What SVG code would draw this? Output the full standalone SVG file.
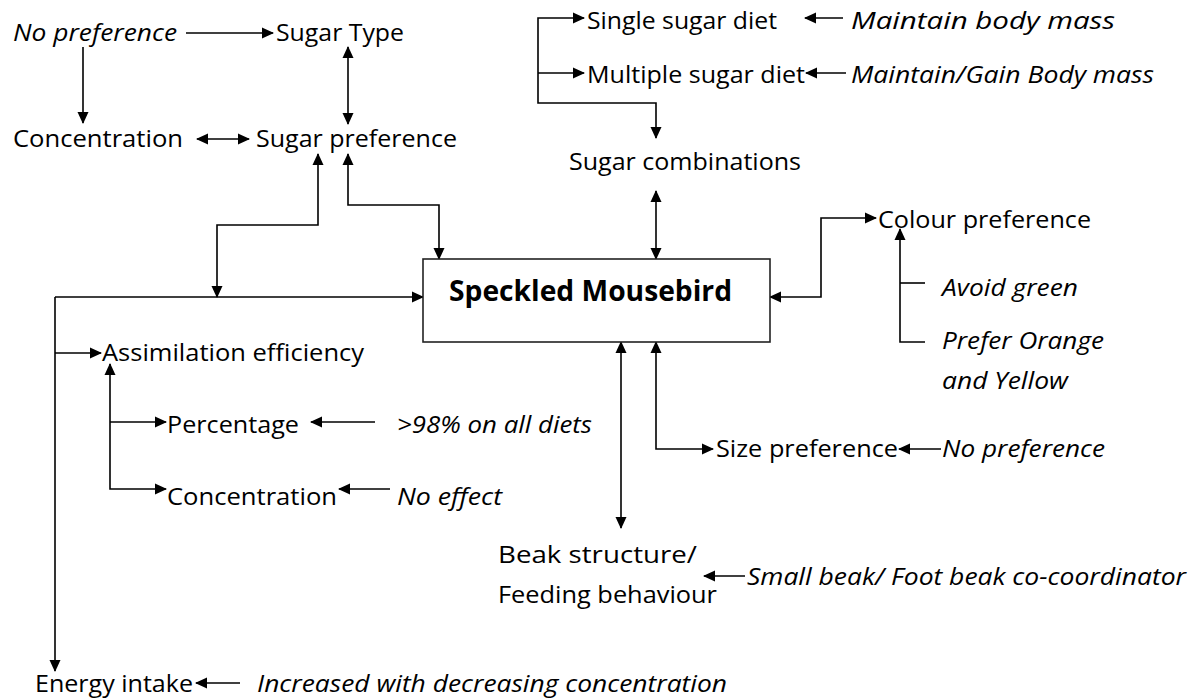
<svg xmlns="http://www.w3.org/2000/svg" width="1202" height="700" viewBox="0 0 1202 700">
<style>
text{font-family:"Open Sans","Noto Sans","Liberation Sans",sans-serif;font-size:24.5px;fill:#000}
.i{font-style:italic}
.b{font-weight:bold;font-size:28px}
.c path{fill:none;stroke:#000;stroke-width:1.6}
.box{fill:#fff;stroke:#222;stroke-width:1.6}
</style>
<defs>
<marker id="ah" markerUnits="userSpaceOnUse" markerWidth="12" markerHeight="12" viewBox="0 0 12 12" refX="11" refY="6" orient="auto-start-reverse">
<path d="M0,0.5 L12,6 L0,11.5 z" fill="#000"/>
</marker>
</defs>
<rect width="1202" height="700" fill="#fff"/>
<g class="c" id="connectors">
<path d="M186,33 H273" marker-end="url(#ah)"/>
<path d="M83,47 V123" marker-end="url(#ah)"/>
<path d="M197,139 H249" marker-start="url(#ah)" marker-end="url(#ah)"/>
<path d="M348,47 V124" marker-start="url(#ah)" marker-end="url(#ah)"/>
<path d="M318,154 V225 H217 V297" marker-start="url(#ah)" marker-end="url(#ah)"/>
<path d="M348,154 V205 H439 V259" marker-start="url(#ah)" marker-end="url(#ah)"/>
<path d="M55,297 H423" marker-end="url(#ah)"/>
<path d="M55,297 V671" marker-end="url(#ah)"/>
<path d="M55,353 H101" marker-end="url(#ah)"/>
<path d="M110,364 V489 H166" marker-start="url(#ah)" marker-end="url(#ah)"/>
<path d="M110,422 H166" marker-end="url(#ah)"/>
<path d="M375,422 H311" marker-end="url(#ah)"/>
<path d="M390,489 H339" marker-end="url(#ah)"/>
<path d="M584,18 H538 V103 H656 V138" marker-start="url(#ah)" marker-end="url(#ah)"/>
<path d="M538,73 H584" marker-end="url(#ah)"/>
<path d="M843,18 H805" marker-end="url(#ah)"/>
<path d="M846,73 H806" marker-end="url(#ah)"/>
<path d="M656,191 V259" marker-start="url(#ah)" marker-end="url(#ah)"/>
<path d="M770,297 H821 V218 H876" marker-start="url(#ah)" marker-end="url(#ah)"/>
<path d="M925,342 H900 V229" marker-end="url(#ah)"/>
<path d="M900,283 H925"/>
<path d="M621,342 V528" marker-start="url(#ah)" marker-end="url(#ah)"/>
<path d="M656,342 V449 H713" marker-start="url(#ah)" marker-end="url(#ah)"/>
<path d="M941,449 H899" marker-end="url(#ah)"/>
<path d="M745,576 H704" marker-end="url(#ah)"/>
<path d="M240,683 H196" marker-end="url(#ah)"/>
</g>
<g id="mousebird">
<rect class="box" x="423" y="259" width="347" height="83"/>
<text class="b" x="449" y="301" textLength="283" lengthAdjust="spacingAndGlyphs">Speckled Mousebird</text>
</g>
<g id="no-pref-top"><text class="i" x="13" y="41" textLength="164" lengthAdjust="spacingAndGlyphs">No preference</text></g>
<g id="sugar-type"><text x="276" y="41" textLength="128" lengthAdjust="spacingAndGlyphs">Sugar Type</text></g>
<g id="concentration-top"><text x="13" y="147" textLength="170" lengthAdjust="spacingAndGlyphs">Concentration</text></g>
<g id="sugar-preference"><text x="256" y="147" textLength="201" lengthAdjust="spacingAndGlyphs">Sugar preference</text></g>
<g id="single-sugar"><text x="587" y="29" textLength="190" lengthAdjust="spacingAndGlyphs">Single sugar diet</text></g>
<g id="maintain"><text class="i" x="851" y="29" textLength="264" lengthAdjust="spacingAndGlyphs">Maintain body mass</text></g>
<g id="multiple-sugar"><text x="587" y="83" textLength="218" lengthAdjust="spacingAndGlyphs">Multiple sugar diet</text></g>
<g id="maintain-gain"><text class="i" x="851" y="83" textLength="303" lengthAdjust="spacingAndGlyphs">Maintain/Gain Body mass</text></g>
<g id="sugar-combinations"><text x="569" y="170" textLength="232" lengthAdjust="spacingAndGlyphs">Sugar combinations</text></g>
<g id="colour-preference"><text x="878" y="228" textLength="213" lengthAdjust="spacingAndGlyphs">Colour preference</text></g>
<g id="avoid-green"><text class="i" x="942" y="296" textLength="136" lengthAdjust="spacingAndGlyphs">Avoid green</text></g>
<g id="prefer-orange">
<text class="i" x="942" y="349" textLength="162" lengthAdjust="spacingAndGlyphs">Prefer Orange</text>
<text class="i" x="942" y="389" textLength="126" lengthAdjust="spacingAndGlyphs">and Yellow</text>
</g>
<g id="assimilation"><text x="102" y="361" textLength="262" lengthAdjust="spacingAndGlyphs">Assimilation efficiency</text></g>
<g id="percentage"><text x="167" y="433" textLength="132" lengthAdjust="spacingAndGlyphs">Percentage</text></g>
<g id="all-diets"><text class="i" x="397" y="433" textLength="195" lengthAdjust="spacingAndGlyphs">&gt;98% on all diets</text></g>
<g id="concentration-mid"><text x="167" y="505" textLength="170" lengthAdjust="spacingAndGlyphs">Concentration</text></g>
<g id="no-effect"><text class="i" x="397" y="505" textLength="105" lengthAdjust="spacingAndGlyphs">No effect</text></g>
<g id="size-preference"><text x="716" y="457" textLength="182" lengthAdjust="spacingAndGlyphs">Size preference</text></g>
<g id="no-pref-size"><text class="i" x="942" y="457" textLength="163" lengthAdjust="spacingAndGlyphs">No preference</text></g>
<g id="beak">
<text x="498" y="563" textLength="199" lengthAdjust="spacingAndGlyphs">Beak structure/</text>
<text x="498" y="603" textLength="219" lengthAdjust="spacingAndGlyphs">Feeding behaviour</text>
</g>
<g id="small-beak"><text class="i" x="747" y="585" textLength="439" lengthAdjust="spacingAndGlyphs">Small beak/ Foot beak co-coordinator</text></g>
<g id="energy-intake"><text x="35" y="692" textLength="158" lengthAdjust="spacingAndGlyphs">Energy intake</text></g>
<g id="increased"><text class="i" x="257" y="692" textLength="470" lengthAdjust="spacingAndGlyphs">Increased with decreasing concentration</text></g>
</svg>
